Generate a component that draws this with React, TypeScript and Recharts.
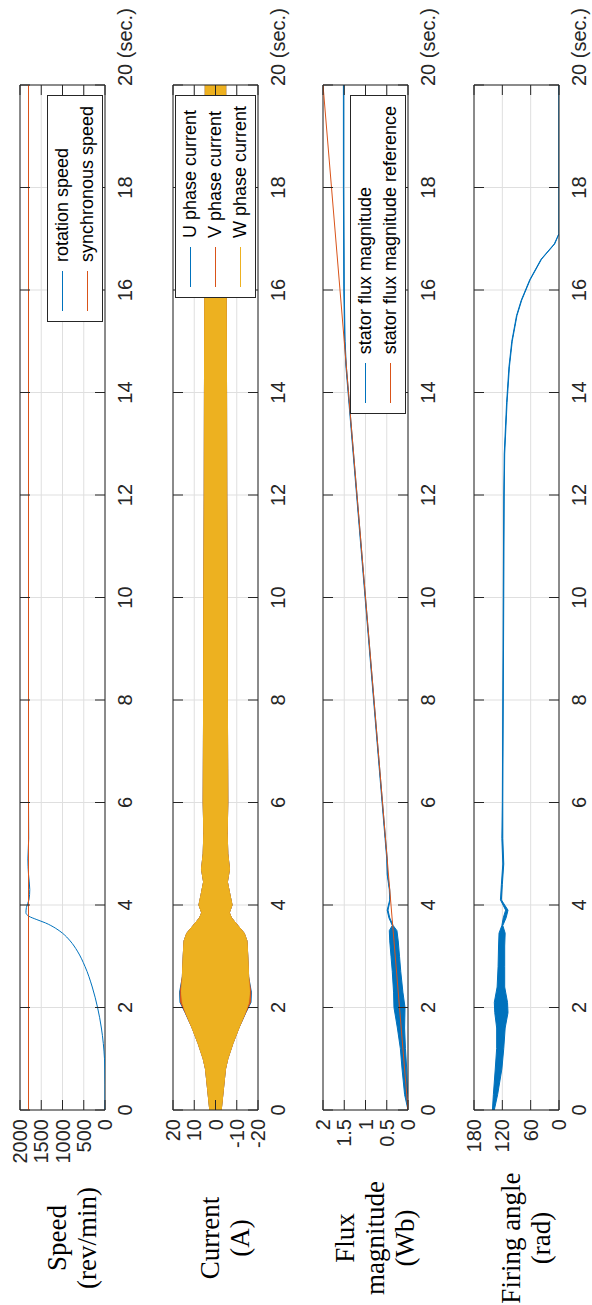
import React from 'react';
import {
  ComposedChart,
  Line,
  Area,
  XAxis,
  YAxis,
  CartesianGrid,
  ReferenceArea,
  Legend,
} from 'recharts';

// ---- data ---------------------------------------------------------------

const timeTicks = [0, 2, 4, 6, 8, 10, 12, 14, 16, 18, 20];

// Speed (rev/min)
const speedTime = [0, 0.5, 0.8, 1.0, 1.3, 1.6, 2.0, 2.4, 2.8, 3.1, 3.3, 3.45, 3.55, 3.65, 3.72, 3.78, 3.85, 3.95, 4.1, 4.3, 4.6, 4.9, 5.3, 6.0, 10, 20];
const rotationSpeed = [0, 0, 5, 12, 40, 85, 175, 300, 470, 650, 820, 1000, 1170, 1400, 1620, 1790, 1860, 1850, 1790, 1770, 1800, 1815, 1795, 1800, 1800, 1800];
const syncTime = [0, 20];
const synchronousSpeed = [1800, 1800];
const speedTicks = [0, 500, 1000, 1500, 2000];

// Phase currents (A): peak envelope of each phase
const currentTime = [0, 0.4, 0.8, 1.0, 1.3, 1.6, 1.9, 2.1, 2.3, 2.6, 3.0, 3.3, 3.45, 3.6, 3.75, 3.85, 4.0, 4.2, 4.45, 4.7, 5.0, 5.4, 6.0, 8, 10, 12, 14, 16, 18, 20];
const uPhasePeak = [2.7, 3.7, 4.7, 5.8, 8.2, 11.0, 14.3, 16.7, 16.9, 15.6, 15.2, 14.8, 13.5, 10.5, 7.5, 6.5, 7.8, 6.8, 5.6, 6.6, 5.8, 5.5, 5.8, 5.6, 5.5, 5.3, 5.2, 5.0, 4.9, 4.8];
const vPhasePeak = [2.7, 3.7, 4.7, 5.8, 8.2, 11.0, 14.2, 16.4, 16.6, 15.6, 15.2, 14.8, 13.5, 10.5, 7.5, 6.5, 7.8, 6.8, 5.6, 6.6, 5.8, 5.5, 5.8, 5.6, 5.5, 5.3, 5.2, 5.0, 4.9, 4.8];
const wPhasePeak = [2.7, 3.7, 4.7, 5.8, 8.2, 11.0, 14.0, 15.6, 16.0, 15.6, 15.2, 14.8, 13.5, 10.5, 7.5, 6.5, 7.8, 6.8, 5.6, 6.6, 5.8, 5.5, 5.8, 5.6, 5.5, 5.3, 5.2, 5.0, 4.9, 4.8];
const currentTicks = [-20, -10, 0, 10, 20];

// Stator flux magnitude (Wb): ripple band, plus its reference ramp
const fluxTime = [0, 0.3, 0.8, 1.2, 1.6, 2.0, 2.3, 2.7, 3.0, 3.3, 3.5, 3.6, 3.75, 3.9, 4.1, 4.3, 4.6, 4.9, 5.3, 6, 8, 10, 12, 13, 14, 14.5, 15, 16, 18, 20];
const statorFluxHigh = [0, 0.08, 0.14, 0.18, 0.25, 0.33, 0.34, 0.37, 0.40, 0.43, 0.44, 0.37, 0.45, 0.49, 0.43, 0.44, 0.49, 0.50, 0.54, 0.61, 0.81, 1.01, 1.21, 1.31, 1.41, 1.46, 1.49, 1.51, 1.52, 1.52];
const statorFluxLow = [0, 0.01, 0.03, 0.06, 0.08, 0.07, 0.12, 0.17, 0.20, 0.23, 0.26, 0.35, 0.43, 0.47, 0.42, 0.43, 0.48, 0.49, 0.53, 0.60, 0.80, 1.00, 1.20, 1.30, 1.40, 1.45, 1.48, 1.50, 1.51, 1.51];
const fluxRefTime = [0, 20];
const fluxReference = [0, 2];
const fluxTicks = [0, 0.5, 1, 1.5, 2];

// Firing angle: ripple band
const fireTime = [0, 0.3, 0.8, 1.2, 1.6, 1.9, 2.1, 2.4, 2.8, 3.2, 3.45, 3.6, 3.75, 3.9, 4.1, 4.4, 4.8, 5.3, 6, 8, 10, 12, 12.8, 13.8, 14.5, 15, 15.5, 15.8, 16.2, 16.6, 16.9, 17.1, 18, 20];
const firingHigh = [141, 139, 135, 132, 132, 136, 137, 131, 129, 128, 127, 121, 118, 113, 124, 122, 119, 121, 120, 119, 118, 117, 116, 111, 106, 100, 90, 80, 62, 38, 10, 0, 0, 0];
const firingLow = [137, 130, 121, 117, 114, 108, 109, 115, 115, 115, 114, 119, 112, 108, 122, 120, 117, 119, 119, 118, 117, 116, 115, 110, 105, 99, 89, 79, 61, 37, 9, 0, 0, 0];
const firingTicks = [0, 60, 120, 180];

// ---- styling / layout ---------------------------------------------------

const BLUE = '#0072BD';
const ORANGE = '#D95319';
const YELLOW = '#EDB120';
const AXIS = '#262626';
const GRID = '#dfdfdf';

const SANS = '"Liberation Sans", Arial, Helvetica, sans-serif';
const SERIF = '"Liberation Serif", "Times New Roman", serif';

// the figure is laid out landscape and then turned a quarter turn
const FIG_W = 1305;
const FIG_H = 592;
const PANEL_H = 150;
const PLOT_LEFT = 195;
const PLOT_RIGHT = 1220;
const PLOT_TOP = 20;
const PLOT_BOTTOM = 105;
const TICK_LEN = 10;
const TICK_FONT_SIZE = 20;

const series = (t: number[], v: number[]) => t.map((x, i) => ({ t: x, v: v[i] }));
const band = (t: number[], lo: number[], hi: number[]) => t.map((x, i) => ({ t: x, v: [lo[i], hi[i]] }));
const symBand = (t: number[], peak: number[]) => t.map((x, i) => ({ t: x, v: [-peak[i], peak[i]] }));

const TimeTick = (props: any) => {
  const { x, payload } = props;
  const v = payload.value;
  const last = v === 20;
  return (
    <g>
      <line x1={x} x2={x} y1={PLOT_BOTTOM} y2={PLOT_BOTTOM - TICK_LEN} stroke={AXIS} strokeWidth={1} />
      <line x1={x} x2={x} y1={PLOT_TOP} y2={PLOT_TOP + TICK_LEN} stroke={AXIS} strokeWidth={1} />
      <text
        x={last ? x - 1 : x}
        y={PLOT_BOTTOM + 27}
        textAnchor={last ? 'start' : 'middle'}
        fontFamily={SANS}
        fontSize={TICK_FONT_SIZE}
        fill={AXIS}
      >
        {last ? '20 (sec.)' : String(v)}
      </text>
    </g>
  );
};

const ValueTick = (props: any) => {
  const { y, payload } = props;
  return (
    <g>
      <line x1={PLOT_LEFT} x2={PLOT_LEFT + TICK_LEN} y1={y} y2={y} stroke={AXIS} strokeWidth={1} />
      <line x1={PLOT_RIGHT} x2={PLOT_RIGHT - TICK_LEN} y1={y} y2={y} stroke={AXIS} strokeWidth={1} />
      <text
        x={PLOT_LEFT - 9}
        y={y}
        textAnchor="end"
        dominantBaseline="central"
        fontFamily={SANS}
        fontSize={TICK_FONT_SIZE}
        fill={AXIS}
      >
        {String(payload.value)}
      </text>
    </g>
  );
};

const yLabel = (lines: string[]) => () => {
  const center = PLOT_TOP + 52;
  const lh = 30;
  const n = lines.length;
  return (
    <text textAnchor="middle" fontFamily={SERIF} fontSize={27} fill="#000">
      {lines.map((l, i) => (
        <tspan key={i} x={67} y={center + (i - (n - 1) / 2) * lh + 9}>
          {l}
        </tspan>
      ))}
    </text>
  );
};

type LegendItem = { name: string; color: string };

const LegendBox = ({ items }: { items: LegendItem[] }) => (
  <div
    style={{
      background: '#fff',
      border: `1px solid ${AXIS}`,
      padding: '2px 10px 2px 10px',
      fontFamily: SANS,
      fontSize: 18,
      color: '#000',
      whiteSpace: 'nowrap',
    }}
  >
    {items.map((it) => (
      <div key={it.name} style={{ display: 'flex', alignItems: 'center', height: 25 }}>
        <span
          style={{
            display: 'inline-block',
            width: 40,
            height: 0,
            borderTop: `1.3px solid ${it.color}`,
            marginRight: 9,
          }}
        />
        <span>{it.name}</span>
      </div>
    ))}
  </div>
);

type PanelProps = {
  top: number;
  domain: [number, number];
  ticks: number[];
  label: string[];
  legend?: LegendItem[];
  legendTop?: number;
  children: React.ReactNode;
};

const Panel = ({ top, domain, ticks, label, legend, legendTop, children }: PanelProps) => (
  <div style={{ position: 'absolute', left: 0, top, width: FIG_W, height: PANEL_H }}>
    <ComposedChart
      width={FIG_W}
      height={PANEL_H}
      margin={{ top: PLOT_TOP, right: FIG_W - PLOT_RIGHT, bottom: 0, left: 0 }}
    >
      <CartesianGrid stroke={GRID} strokeWidth={1} />
      <XAxis
        dataKey="t"
        type="number"
        domain={[0, 20]}
        ticks={timeTicks}
        allowDataOverflow
        height={PANEL_H - PLOT_BOTTOM}
        axisLine={false}
        tickLine={false}
        tick={TimeTick}
        interval={0}
      />
      <YAxis
        type="number"
        domain={domain}
        ticks={ticks}
        allowDataOverflow
        width={PLOT_LEFT}
        axisLine={false}
        tickLine={false}
        tick={ValueTick}
        interval={0}
        label={yLabel(label)}
      />
      {children}
      <ReferenceArea
        x1={0}
        x2={20}
        y1={domain[0]}
        y2={domain[1]}
        fill="none"
        fillOpacity={0}
        stroke={AXIS}
        strokeWidth={1}
        ifOverflow="visible"
      />
      {legend && (
        <Legend
          layout="vertical"
          align="center"
          verticalAlign="middle"
          wrapperStyle={{ left: 'auto', right: FIG_W - PLOT_RIGHT + 10, top: legendTop }}
          content={() => <LegendBox items={legend} />}
        />
      )}
    </ComposedChart>
  </div>
);

export default function App() {
  return (
    <div
      style={{
        position: 'absolute',
        left: 0,
        top: 0,
        width: FIG_H,
        height: FIG_W,
        overflow: 'hidden',
        background: '#fff',
      }}
    >
      <div
        style={{
          position: 'absolute',
          left: 0,
          top: 0,
          width: FIG_W,
          height: FIG_H,
          transformOrigin: '0 0',
          transform: `translateY(${FIG_W}px) rotate(-90deg)`,
        }}
      >
        <Panel
          top={0}
          domain={[0, 2000]}
          ticks={speedTicks}
          label={['Speed', '(rev/min)']}
          legend={[
            { name: 'rotation speed', color: BLUE },
            { name: 'synchronous speed', color: ORANGE },
          ]}
          legendTop={47}
        >
          <Line
            data={series(speedTime, rotationSpeed)}
            dataKey="v"
            type="monotone"
            stroke={BLUE}
            strokeWidth={1}
            dot={false}
            activeDot={false}
            isAnimationActive={false}
          />
          <Line
            data={series(syncTime, synchronousSpeed)}
            dataKey="v"
            type="linear"
            stroke={ORANGE}
            strokeWidth={1}
            dot={false}
            activeDot={false}
            isAnimationActive={false}
          />
        </Panel>

        <Panel
          top={153}
          domain={[-20, 20]}
          ticks={currentTicks}
          label={['Current', '(A)']}
          legend={[
            { name: 'U phase current', color: BLUE },
            { name: 'V phase current', color: ORANGE },
            { name: 'W phase current', color: YELLOW },
          ]}
          legendTop={22}
        >
          <Area
            data={symBand(currentTime, uPhasePeak)}
            dataKey="v"
            type="linear"
            stroke={BLUE}
            fill={BLUE}
            fillOpacity={1}
            strokeWidth={1}
            dot={false}
            activeDot={false}
            isAnimationActive={false}
          />
          <Area
            data={symBand(currentTime, vPhasePeak)}
            dataKey="v"
            type="linear"
            stroke={ORANGE}
            fill={ORANGE}
            fillOpacity={1}
            strokeWidth={1}
            dot={false}
            activeDot={false}
            isAnimationActive={false}
          />
          <Area
            data={symBand(currentTime, wPhasePeak)}
            dataKey="v"
            type="linear"
            stroke={YELLOW}
            fill={YELLOW}
            fillOpacity={1}
            strokeWidth={1}
            dot={false}
            activeDot={false}
            isAnimationActive={false}
          />
        </Panel>

        <Panel
          top={303}
          domain={[0, 2]}
          ticks={fluxTicks}
          label={['Flux', 'magnitude', '(Wb)']}
          legend={[
            { name: 'stator flux magnitude', color: BLUE },
            { name: 'stator flux magnitude reference', color: ORANGE },
          ]}
          legendTop={47}
        >
          <Area
            data={band(fluxTime, statorFluxLow, statorFluxHigh)}
            dataKey="v"
            type="linear"
            stroke={BLUE}
            fill={BLUE}
            fillOpacity={1}
            strokeWidth={1}
            dot={false}
            activeDot={false}
            isAnimationActive={false}
          />
          <Line
            data={series(fluxRefTime, fluxReference)}
            dataKey="v"
            type="linear"
            stroke={ORANGE}
            strokeWidth={1}
            dot={false}
            activeDot={false}
            isAnimationActive={false}
          />
        </Panel>

        <Panel
          top={454}
          domain={[0, 180]}
          ticks={firingTicks}
          label={['Firing angle', '(rad)']}
        >
          <Area
            data={band(fireTime, firingLow, firingHigh)}
            dataKey="v"
            type="linear"
            stroke={BLUE}
            fill={BLUE}
            fillOpacity={1}
            strokeWidth={1}
            dot={false}
            activeDot={false}
            isAnimationActive={false}
          />
        </Panel>
      </div>
    </div>
  );
}
